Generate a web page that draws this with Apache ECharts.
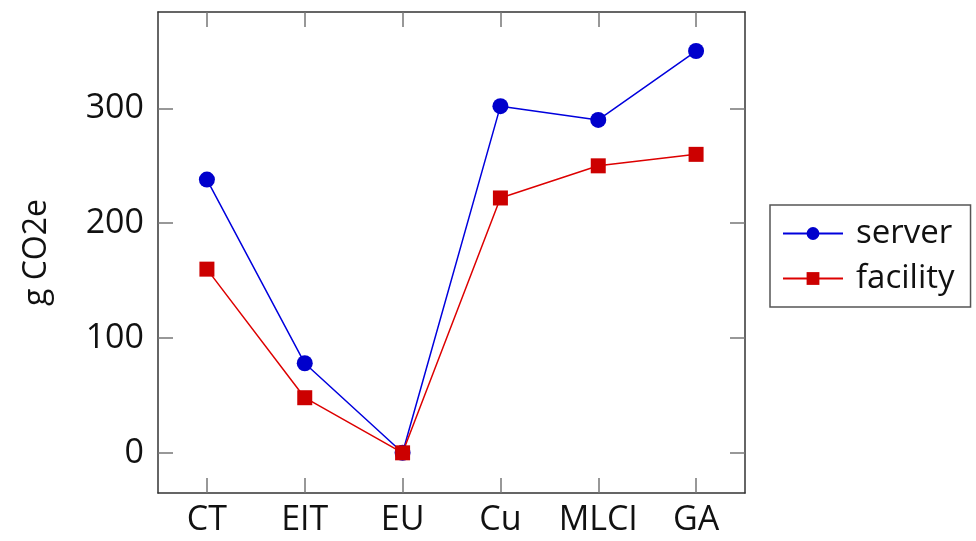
<!DOCTYPE html>
<html lang="en">
<head>
    <meta charset="UTF-8">
    <title>g CO2e</title>
    <script src="https://cdn.jsdelivr.net/npm/echarts@6/dist/echarts.min.js"></script>
    <style>
        html, body { margin: 0; padding: 0; background: #fff; }
        #chart { width: 976px; height: 541px; }
    </style>
</head>
<body>
<div id="chart"></div>
<script type="text/javascript">
    // data
    var categories = ['CT', 'EIT', 'EU', 'Cu', 'MLCI', 'GA'];
    var serverData = [238, 78, 0, 302, 290, 350];
    var facilityData = [160, 48, 0, 222, 250, 260];
    var yTicks = [0, 100, 200, 300];

    var font = 'Open Sans';
    var frameColor = '#333';
    var tickColor = '#777';

    var chart = echarts.init(document.getElementById('chart'));

    // frame: every side is an axis with inward ticks
    function frameLine() {
        return { show: true, onZero: false, lineStyle: { color: frameColor, width: 1.5 } };
    }
    function frameTick(extra) {
        var t = { show: true, inside: true, length: 15, lineStyle: { color: tickColor, width: 1.5 } };
        for (var k in extra) t[k] = extra[k];
        return t;
    }

    var option = {
        animation: false,
        textStyle: { fontFamily: font },
        grid: { left: 158, right: 231, top: 12, bottom: 48, show: false },
        legend: {
            orient: 'vertical',
            left: 770, top: 205,
            padding: [12, 16, 12, 12],
            itemGap: 12,
            itemWidth: 60, itemHeight: 16,
            borderColor: '#555', borderWidth: 1.5,
            textStyle: { fontFamily: font, fontSize: 33, color: '#111', padding: [0, 0, 0, 8] },
            data: ['server', 'facility']
        },
        xAxis: [{
            type: 'category', data: categories, position: 'bottom', boundaryGap: true,
            axisLine: frameLine(),
            axisTick: frameTick({ interval: 0, alignWithLabel: true }),
            axisLabel: { interval: 0, fontSize: 34, color: '#111', margin: 10, fontFamily: font },
            splitLine: { show: false }
        }, {
            type: 'category', data: categories, position: 'top', boundaryGap: true,
            axisLine: frameLine(),
            axisTick: frameTick({ interval: 0, alignWithLabel: true }),
            axisLabel: { show: false, interval: 0 }
        }],
        yAxis: [{
            type: 'value', min: -35, max: 384, position: 'left',
            name: 'g CO2e', nameLocation: 'middle', nameGap: 105, nameRotate: 90,
            nameTextStyle: { fontSize: 32, color: '#111', fontFamily: font },
            axisLine: frameLine(),
            axisTick: frameTick({ customValues: yTicks }),
            axisLabel: { fontSize: 34, color: '#111', margin: 14, customValues: yTicks, fontFamily: font },
            splitLine: { show: false }
        }, {
            type: 'value', min: -35, max: 384, position: 'right',
            axisLine: frameLine(),
            axisTick: frameTick({ customValues: yTicks }),
            axisLabel: { show: false, customValues: yTicks },
            splitLine: { show: false }
        }],
        series: [{
            name: 'server', type: 'line', data: serverData,
            symbol: 'circle', symbolSize: 16,
            itemStyle: { color: '#0000cc' },
            lineStyle: { color: '#0000dd', width: 1.5 }
        }, {
            name: 'facility', type: 'line', data: facilityData,
            symbol: 'rect', symbolSize: 15,
            itemStyle: { color: '#cc0000' },
            lineStyle: { color: '#dd0000', width: 1.5 }
        }]
    };

    chart.setOption(option);
</script>
</body>
</html>
